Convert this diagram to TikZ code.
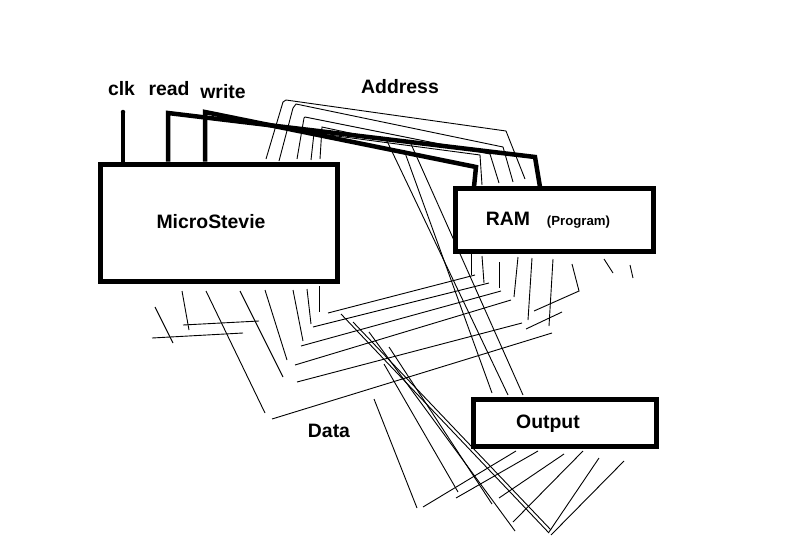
\documentclass[tikz,border=0pt]{standalone}
\usepackage{fontspec}
\setmainfont{Liberation Sans}
\tikzset{
  thinw/.style={draw=black,line width=0.9pt},
  thickw/.style={draw=black,line width=4.5pt,line join=miter,line cap=round},
  boxn/.style={draw=black,fill=white,line width=5pt,minimum width=0pt,minimum height=0pt,inner sep=0pt},
  lab/.style={font=\bfseries\fontsize{19.4}{22}\selectfont,inner sep=0pt,text=black,anchor=base},
  labs/.style={font=\bfseries\fontsize{13.2}{15}\selectfont,inner sep=0pt,text=black,anchor=base}
}
\begin{document}
\begin{tikzpicture}[x=1pt,y=-1pt]
\useasboundingbox (0,0) rectangle (791,554);
\fill[white] (0,0) rectangle (791,554);
% address bus
\draw[thinw] (266,159)--(283,102)--(286,100)--(506,131)--(525,179);
\draw[thinw] (279,161)--(293,108)--(296,104)--(503,147)--(513,182);
\draw[thinw] (297,159)--(304,118)--(305,117)--(490,154)--(499,183);
\draw[thinw] (311,160)--(314,133)--(480,155)--(482,185);
\draw[thinw] (320,159)--(322,127)--(387,141)--(508,395);
\draw[thinw] (404,150)--(492,393);
\draw[thinw] (411,144)--(523,395);
% data bus
\draw[thinw] (155,307)--(173,343);
\draw[thinw] (152,338)--(243,333);
\draw[thinw] (182,291)--(189,330);
\draw[thinw] (183,325)--(259,321);
\draw[thinw] (206,291)--(265,413);
\draw[thinw] (272,419)--(552,333);
\draw[thinw] (240,291)--(283,377);
\draw[thinw] (297,382)--(522,323);
\draw[thinw] (265,290)--(287,360);
\draw[thinw] (295,365)--(511,300);
\draw[thinw] (293,290)--(303,341);
\draw[thinw] (301,346)--(501,291);
\draw[thinw] (307,289)--(311,324);
\draw[thinw] (313,327)--(489,283);
\draw[thinw] (319,286)--(319,312);
\draw[thinw] (328,313)--(475,275);
% from RAM
\draw[thinw] (471,254)--(471,275);
\draw[thinw] (482,256)--(484,283);
\draw[thinw] (499,262)--(499,288);
\draw[thinw] (518,257)--(514,297);
\draw[thinw] (532,258)--(528,320);
\draw[thinw] (553,259)--(549,326);
\draw[thinw] (572,264)--(579,291)--(534,311);
\draw[thinw] (562,312)--(526,329);
\draw[thinw] (604,259)--(613,273);
\draw[thinw] (630,265)--(633,278);
% lower fan
\draw[thinw] (374,399)--(417,508);
\draw[thinw] (423,507)--(516,451);
\draw[thinw] (384,364)--(458,492);
\draw[thinw] (456,498)--(538,451);
\draw[thinw] (369,332)--(515,531);
\draw[thinw] (389,347)--(492,504);
\draw[thinw] (341,314)--(549,533);
\draw[thinw] (353,322)--(551,530);
\draw[thinw] (499,498)--(564,454);
\draw[thinw] (513,522)--(583,451);
\draw[thinw] (549,532)--(599,458);
\draw[thinw] (551,535)--(624,461);
% boxes
\node[boxn,minimum width=237pt,minimum height=117.5pt] (micro) at (219,222.75) {};
\node[boxn,minimum width=197.5pt,minimum height=63.5pt] (ram) at (554.25,219.75) {};
\node[boxn,minimum width=182.5pt,minimum height=47.5pt] (output) at (564.75,422.75) {};
% control lines
\coordinate (clkT) at (123,112);
\coordinate (readT) at (168,113);
\coordinate (readM) at (535,157);
\coordinate (writeT) at (205,112);
\coordinate (writeM) at (476,167);
\draw[thickw,line cap=butt] (clkT|-micro.north)--(clkT);
\fill (clkT) circle (2.25pt);
\draw[thickw,line cap=butt] (readT|-micro.north)--(readT)--(readM)--(540,187);
\draw[thickw,line cap=butt] (writeT|-micro.north)--(writeT)--(writeM)--(474,187);
% labels
\node[lab] (tclk) at (121.5,95) {clk};
\node[lab] (tread) at (169,95) {read};
\node[lab] (twrite) at (223,98) {write};
\node[lab] (taddr) at (400,93) {Address};
\node[lab] (tmicro) at (211,228) {MicroStevie};
\node[lab] (tram) at (508,225) {RAM};
\node[labs] (tprog) at (578.5,225) {(Program)};
\node[lab] (tdata) at (329,437) {Data};
\node[lab] (tout) at (548,428) {Output};
\end{tikzpicture}
\end{document}
